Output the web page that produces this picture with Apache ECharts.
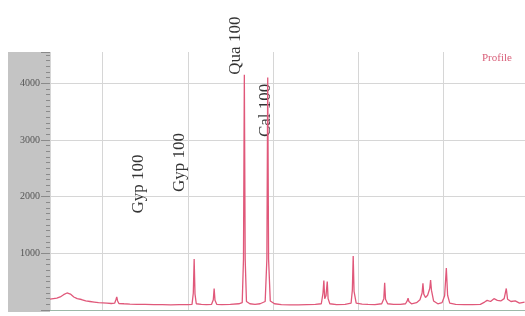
<!DOCTYPE html>
<html>
<head>
<meta charset="utf-8">
<script src="https://cdn.jsdelivr.net/npm/echarts@6/dist/echarts.min.js"></script>
<style>
  html, body { margin: 0; padding: 0; background: #fff; }
  #chart { width: 525px; height: 316px; }
</style>
</head>
<body>
<div id="chart"></div>
<script>
// 2theta (deg) / intensity (counts) of the profile
var twoTheta = [3.8, 4.2, 4.6, 5.0, 5.4, 5.8, 6.2, 6.6, 7.0, 7.5, 8.0, 8.5, 9.0, 9.5, 10.0, 10.5, 11.0, 11.4, 11.55, 11.65, 11.75, 11.9,
  12.5, 13.2, 14.0, 15.0, 16.0, 17.0, 18.0, 19.0, 20.0, 20.5, 20.65, 20.75, 20.85, 21.0, 21.6, 22.2, 22.8, 23.0, 23.1, 23.2, 23.4,
  24.0, 25.0, 26.0, 26.4, 26.55, 26.65, 26.75, 26.9, 27.3, 27.9, 28.5, 29.1, 29.3, 29.4, 29.5, 29.7, 30.2, 31.0, 32.0, 33.0, 34.0,
  35.0, 35.7, 35.9, 36.0, 36.1, 36.25, 36.4, 36.5, 36.7, 37.5, 38.5, 39.2, 39.35, 39.45, 39.55, 39.8, 40.5, 41.2, 42.0, 42.8, 43.05,
  43.15, 43.25, 43.5, 44.2, 45.0, 45.6, 45.8, 45.9, 46.0, 46.3, 46.9, 47.3, 47.55, 47.65, 47.75, 47.95, 48.2, 48.45, 48.55, 48.65,
  48.9, 49.4, 49.9, 50.2, 50.4, 50.55, 50.8, 51.5, 52.5, 53.5, 54.4, 54.9, 55.2, 55.6, 56.0, 56.4, 56.8, 57.2, 57.45, 57.6, 58.0,
  58.5, 59.0, 59.6];
var intensity = [190, 200, 210, 230, 270, 300, 280, 230, 200, 185, 160, 150, 140, 130, 125, 120, 115, 120, 180, 230, 160, 115,
  110, 105, 100, 100, 95, 95, 90, 95, 95, 100, 300, 900, 280, 110, 100, 95, 100, 180, 380, 170, 100,
  95, 100, 110, 130, 900, 4150, 900, 150, 110, 100, 110, 150, 900, 4100, 900, 160, 110, 95, 90, 90, 95,
  100, 110, 300, 520, 200, 250, 500, 200, 110, 95, 100, 120, 350, 950, 330, 120, 105, 100, 95, 110, 200,
  480, 190, 110, 100, 100, 110, 160, 210, 150, 110, 130, 180, 300, 470, 280, 220, 260, 380, 530, 350,
  160, 110, 130, 250, 740, 260, 120, 100, 95, 95, 100, 140, 170, 150, 200, 170, 160, 200, 380, 190, 150,
  160, 120, 140];

// peak annotations (label anchor = bottom of rotated text)
var peakNames = ['Gyp 100', 'Gyp 100', 'Qua 100', 'Cal 100'];
var peakLabelX = [14.2, 19.05, 25.65, 29.1];
var peakLabelY = [1700, 2080, 4150, 3050];

var yTicks = [0, 1000, 2000, 3000, 4000];

var profile = [];
for (var i = 0; i < twoTheta.length; i++) {
  profile.push([twoTheta[i], intensity[i]]);
}
var labels = [];
for (var j = 0; j < peakNames.length; j++) {
  labels.push({ name: peakNames[j], value: [peakLabelX[j], peakLabelY[j]] });
}
// horizontal grid lines at the labelled ticks only
var hLines = [];
for (var k = 1; k < yTicks.length; k++) {
  hLines.push({ yAxis: yTicks[k] });
}

var grid = '#d6d6d6';
var chart = echarts.init(document.getElementById('chart'), null, { renderer: 'canvas' });
var option = {
  animation: false,
  backgroundColor: '#fff',
  grid: { left: 50, right: 0, top: 52, bottom: 6 },
  graphic: [{
    type: 'rect', z: -1,
    shape: { x: 8, y: 52, width: 42, height: 260 },
    style: { fill: '#c4c4c4' }
  }, {
    type: 'text', left: 482, top: 53,
    style: { text: 'Profile', font: '11px "Liberation Serif"', fill: '#d9607a' }
  }],
  xAxis: {
    type: 'value', min: 3.8, max: 59.65, splitNumber: 6,
    axisLine: { show: true, lineStyle: { color: '#9db8a8', width: 1 } },
    axisTick: { show: false },
    axisLabel: { show: false },
    splitLine: { show: true, lineStyle: { color: grid, width: 1 } }
  },
  yAxis: {
    type: 'value', min: 0, max: 4550, interval: 1000,
    axisLine: { show: false },
    axisTick: { show: true, length: 9, lineStyle: { color: '#8a8a8a' } },
    minorTick: { show: true, splitNumber: 10, length: 4, lineStyle: { color: '#8a8a8a' } },
    axisLabel: {
      margin: 10, fontFamily: 'Liberation Serif', fontSize: 10, color: '#555',
      formatter: function (v) { return yTicks.indexOf(v) > 0 ? String(v) : ''; }
    },
    splitLine: { show: false }
  },
  series: [{
    name: 'Profile',
    type: 'line',
    data: profile,
    symbol: 'none',
    z: 3,
    lineStyle: { color: '#e0587a', width: 1.3 },
    itemStyle: { color: '#e0587a' },
    markLine: {
      silent: true, symbol: 'none', z: 1,
      label: { show: false },
      lineStyle: { color: grid, width: 1, type: 'solid' },
      emphasis: { disabled: true },
      data: hLines
    }
  }, {
    name: 'peaks',
    type: 'scatter',
    data: labels,
    symbolSize: 0,
    label: {
      show: true, position: 'inside', rotate: 90,
      align: 'left', verticalAlign: 'middle',
      formatter: '{b}',
      fontFamily: 'Liberation Serif', fontSize: 17, color: '#000'
    }
  }]
};
chart.setOption(option);
window.onresize = chart.resize;
</script>
</body>
</html>
